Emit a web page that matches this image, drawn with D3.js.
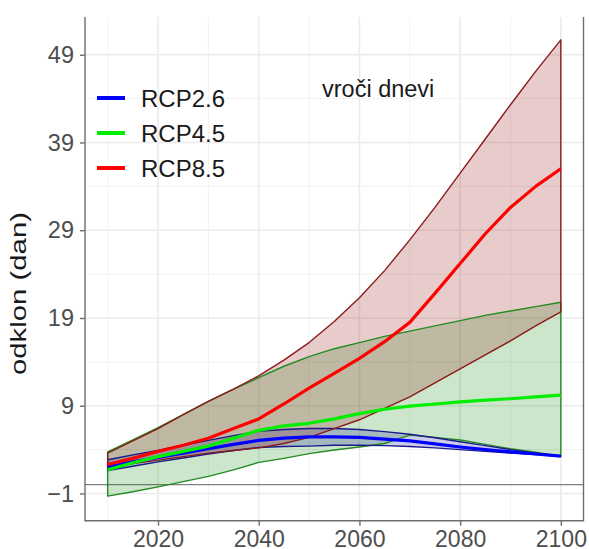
<!DOCTYPE html>
<html>
<head>
<meta charset="utf-8">
<script src="https://cdn.jsdelivr.net/npm/d3@7"></script>
<style>
  html, body { margin: 0; padding: 0; background: #fff; }
  svg { display: block; font-family: "Liberation Sans", Arial, sans-serif; }
</style>
</head>
<body>
<svg id="chart" width="589" height="549"></svg>
<script>
// Years of the projection (5-year steps)
const years = [2010, 2015, 2020, 2025, 2030, 2035, 2040, 2045, 2050, 2055,
               2060, 2065, 2070, 2075, 2080, 2085, 2090, 2095, 2100];

// RCP2.6 — lower bound, median, upper bound (days)
const rcp26Lower  = [1.6, 2.1, 2.6, 3.05, 3.5, 3.9, 4.25, 4.35, 4.4, 4.5, 4.5, 4.45, 4.35, 4.2, 4.0, 3.8, 3.6, 3.45, 3.25];
const rcp26Median = [2.0, 2.6, 3.1, 3.6, 4.1, 4.6, 5.05, 5.3, 5.45, 5.45, 5.4, 5.2, 5.0, 4.65, 4.3, 4.0, 3.75, 3.5, 3.25];
const rcp26Upper  = [2.85, 3.4, 3.9, 4.5, 5.05, 5.6, 6.1, 6.3, 6.4, 6.4, 6.3, 6.05, 5.75, 5.35, 4.9, 4.45, 4.0, 3.6, 3.25];

// RCP4.5
const rcp45Lower  = [-1.3, -0.8, -0.25, 0.35, 0.95, 1.7, 2.55, 3.0, 3.55, 3.95, 4.3, 4.7, 5.65, 5.4, 5.1, 4.6, 4.1, 3.7, 3.25];
const rcp45Median = [1.7, 2.5, 3.2, 3.8, 4.4, 5.3, 6.2, 6.7, 7.0, 7.5, 8.1, 8.6, 8.95, 9.2, 9.45, 9.65, 9.8, 10.0, 10.2];
const rcp45Upper  = [3.75, 5.1, 6.5, 8.0, 9.5, 10.9, 12.2, 13.5, 14.6, 15.5, 16.2, 16.9, 17.5, 18.1, 18.7, 19.3, 19.8, 20.3, 20.8];

// RCP8.5
const rcp85Lower  = [1.9, 2.4, 2.8, 3.2, 3.6, 3.9, 4.2, 4.7, 5.4, 6.4, 7.4, 8.7, 10.0, 11.6, 13.2, 14.8, 16.4, 18.1, 19.7];
const rcp85Median = [2.3, 3.0, 3.8, 4.5, 5.3, 6.4, 7.5, 9.2, 11.0, 12.7, 14.4, 16.3, 18.5, 21.8, 25.2, 28.6, 31.6, 34.0, 36.0];
const rcp85Upper  = [3.6, 5.0, 6.4, 8.0, 9.5, 10.9, 12.4, 14.2, 16.2, 18.6, 21.3, 24.4, 27.9, 31.6, 35.5, 39.4, 43.3, 47.1, 50.7];

// Axis ticks
const yTicks = [-1, 9, 19, 29, 39, 49];
const yMinor = [4, 14, 24, 34, 44];
const xTicks = [2020, 2040, 2060, 2080, 2100];
const xMinor = [2010, 2030, 2050, 2070, 2090];

const scenarioNames = ["RCP2.6", "RCP4.5", "RCP8.5"];
const titleText = "vroči dnevi";
const yTitle = "odklon (dan)";

const svg = d3.select("#chart");
const panel = { left: 85, right: 583.5, top: 17, bottom: 520.7 };

const x = d3.scaleLinear().domain([2005.5, 2104.5]).range([panel.left, panel.right]);
const y = d3.scaleLinear().domain([-4.1, 53.3]).range([panel.bottom, panel.top]);

// Grid
const grid = svg.append("g");
grid.selectAll(".ymin").data(yMinor).join("line")
  .attr("x1", panel.left).attr("x2", panel.right)
  .attr("y1", d => y(d)).attr("y2", d => y(d))
  .attr("stroke", "#f2f2f2").attr("stroke-width", 1);
grid.selectAll(".xmin").data(xMinor).join("line")
  .attr("y1", panel.top).attr("y2", panel.bottom)
  .attr("x1", d => x(d)).attr("x2", d => x(d))
  .attr("stroke", "#f2f2f2").attr("stroke-width", 1);
grid.selectAll(".ymaj").data(yTicks).join("line")
  .attr("x1", panel.left).attr("x2", panel.right)
  .attr("y1", d => y(d)).attr("y2", d => y(d))
  .attr("stroke", "#ebebeb").attr("stroke-width", 1.6);
grid.selectAll(".xmaj").data(xTicks).join("line")
  .attr("y1", panel.top).attr("y2", panel.bottom)
  .attr("x1", d => x(d)).attr("x2", d => x(d))
  .attr("stroke", "#ebebeb").attr("stroke-width", 1.6);

// Zero reference line
svg.append("line")
  .attr("x1", panel.left).attr("x2", panel.right)
  .attr("y1", y(0)).attr("y2", y(0))
  .attr("stroke", "#808080").attr("stroke-width", 1.2);

function band(lower, upper) {
  return years.map((yr, i) => ({ yr, lo: lower[i], hi: upper[i] }));
}
const area = d3.area().x(d => x(d.yr)).y0(d => y(d.lo)).y1(d => y(d.hi));
const line = d3.line().x(d => x(d.yr)).y(d => y(d.v));

const bands = [
  { lower: rcp45Lower, upper: rcp45Upper, fill: "#008000", stroke: "#228b22" },
  { lower: rcp26Lower, upper: rcp26Upper, fill: "#00008b", stroke: "#1a1a8b" },
  { lower: rcp85Lower, upper: rcp85Upper, fill: "#8b0000", stroke: "#8b1a1a" }
];

const gBands = svg.append("g");
bands.forEach(b => {
  gBands.append("path")
    .attr("d", area(band(b.lower, b.upper)))
    .attr("fill", b.fill).attr("fill-opacity", 0.2)
    .attr("stroke", "none");
});
bands.forEach(b => {
  gBands.append("path")
    .attr("d", area(band(b.lower, b.upper)))
    .attr("fill", "none")
    .attr("stroke", b.stroke).attr("stroke-width", 1.4)
    .attr("stroke-linejoin", "round");
});

const medians = [
  { v: rcp26Median, color: "#0000ff" },
  { v: rcp45Median, color: "#00ee00" },
  { v: rcp85Median, color: "#ff0000" }
];
medians.forEach(m => {
  svg.append("path")
    .attr("d", line(years.map((yr, i) => ({ yr, v: m.v[i] }))))
    .attr("fill", "none")
    .attr("stroke", m.color).attr("stroke-width", 3.2)
    .attr("stroke-linejoin", "round").attr("stroke-linecap", "butt");
});

// Axis lines (left, bottom, right)
const axisCol = "#6e6e6e";
svg.append("line").attr("x1", panel.left).attr("x2", panel.left)
  .attr("y1", panel.top).attr("y2", panel.bottom + 0.5)
  .attr("stroke", axisCol).attr("stroke-width", 1.4);
svg.append("line").attr("x1", panel.left).attr("x2", panel.right)
  .attr("y1", panel.bottom).attr("y2", panel.bottom)
  .attr("stroke", axisCol).attr("stroke-width", 1.4);
svg.append("line").attr("x1", panel.right).attr("x2", panel.right)
  .attr("y1", panel.top).attr("y2", panel.bottom + 0.5)
  .attr("stroke", axisCol).attr("stroke-width", 1.4);

// Y axis
const yAxis = d3.axisLeft(y).tickValues(yTicks).tickSize(5).tickPadding(6).tickFormat(d3.format("d"));
const gy = svg.append("g").attr("transform", `translate(${panel.left},0)`).call(yAxis);
gy.select(".domain").remove();
gy.selectAll(".tick line").attr("stroke", axisCol).attr("stroke-width", 1.4);
gy.selectAll(".tick text").attr("fill", "#4d4d4d").attr("font-size", 23.5)
  .attr("font-family", "'Liberation Sans', Arial, sans-serif");

// X axis
const xAxis = d3.axisBottom(x).tickValues(xTicks).tickSize(5).tickPadding(5).tickFormat(d3.format("d"));
const gx = svg.append("g").attr("transform", `translate(0,${panel.bottom})`).call(xAxis);
gx.select(".domain").remove();
gx.selectAll(".tick line").attr("stroke", axisCol).attr("stroke-width", 1.4);
gx.selectAll(".tick text").attr("fill", "#4d4d4d").attr("font-size", 23)
  .attr("font-family", "'Liberation Sans', Arial, sans-serif");

// Y axis title
svg.append("text")
  .attr("transform", `translate(26,293.5) rotate(-90)`)
  .attr("text-anchor", "middle")
  .attr("font-size", 22).attr("fill", "#1a1a1a")
  .attr("textLength", 163).attr("lengthAdjust", "spacingAndGlyphs")
  .text(yTitle);

// Panel title
svg.append("text")
  .attr("x", 322).attr("y", 97)
  .attr("font-size", 23.5).attr("fill", "#1a1a1a")
  .text(titleText);

// Legend
const legendColors = ["#0000ff", "#00ee00", "#ff0000"];
const lg = svg.append("g");
scenarioNames.forEach((name, i) => {
  const cy = 98 + i * 35;
  lg.append("line").attr("x1", 97).attr("x2", 125).attr("y1", cy).attr("y2", cy)
    .attr("stroke", legendColors[i]).attr("stroke-width", 4);
  lg.append("text").attr("x", 141).attr("y", cy + 8.5)
    .attr("font-size", 24).attr("fill", "#1a1a1a").text(name);
});
</script>
</body>
</html>
